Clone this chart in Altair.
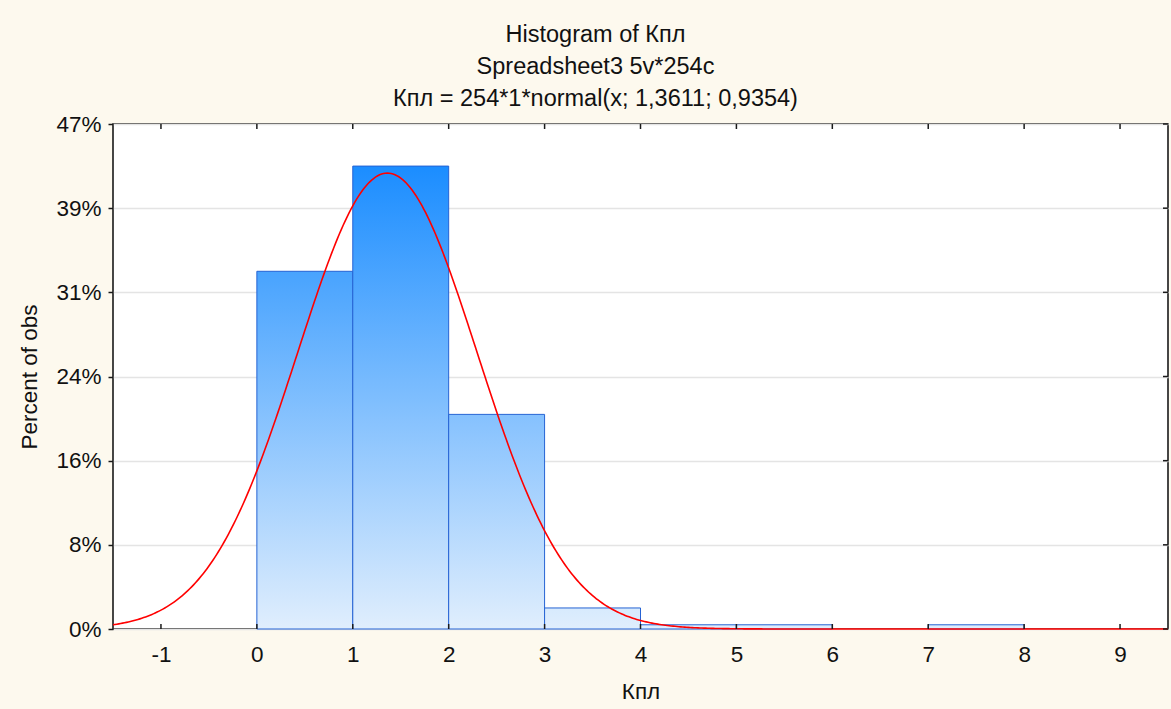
import altair as alt
import numpy as np
import pandas as pd

# Histogram of Кпл: counts per unit-wide class
bin_starts = [0, 1, 2, 3, 4, 5, 7]
bin_ends = [1, 2, 3, 4, 5, 6, 8]
counts = [85, 110, 51, 5, 1, 1, 1]

# fitted normal curve parameters (254*1*normal(x; mean; sd))
n_obs = 254
bin_width = 1
fit_mean = 1.3611
fit_sd = 0.9354

x_ticks = [-1, 0, 1, 2, 3, 4, 5, 6, 7, 8, 9]
y_ticks = [0, 20, 40, 60, 80, 100, 120]
y_tick_labels = ["0%", "8%", "16%", "24%", "31%", "39%", "47%"]

x_domain = [-1.5, 9.5]
y_domain = [0, 120]

W, H = 1055, 505
FONT = "Liberation Sans"
FRAME = "#1a1a1a"
FS = 22.5

# label expression mapping count ticks to percent-of-obs labels
label_expr = "''"
for v, lab in zip(reversed(y_ticks), reversed(y_tick_labels)):
    label_expr = f"datum.value == {v} ? '{lab}' : ({label_expr})"

x_scale = alt.Scale(domain=x_domain, nice=False, zero=False)
y_scale = alt.Scale(domain=y_domain, nice=False, zero=True)

x_axis = alt.Axis(values=x_ticks, labelExpr="'' + datum.value",
                  ticks=False, grid=False, domain=False,
                  labelFontSize=FS, labelFont=FONT, labelColor="#111",
                  labelPadding=14, title="Кпл", titleFont=FONT,
                  titleFontSize=FS, titleFontWeight="normal",
                  titleColor="#111", titlePadding=15, labelFlush=False)
y_axis = alt.Axis(values=y_ticks, labelExpr=label_expr, ticks=True,
                  tickSize=5, tickColor=FRAME, tickWidth=1.5, domain=False,
                  grid=True, gridColor="#e4e4e4", gridWidth=1.5,
                  labelFontSize=FS, labelFont=FONT, labelColor="#111",
                  labelPadding=7, title="Percent of obs", titleFont=FONT,
                  titleFontSize=FS, titleFontWeight="normal",
                  titleColor="#111", titlePadding=14)

# absolute vertical gradient: colour depends on height within the plot
top_rgb = np.array([9, 132, 255])
bottom_rgb = np.array([224, 238, 253])


def shade(frac):
    c = bottom_rgb + (top_rgb - bottom_rgb) * frac
    return "#%02x%02x%02x" % tuple(int(round(v)) for v in c)


layers = []
for s, e, c in zip(bin_starts, bin_ends, counts):
    df = pd.DataFrame({"start": [s], "end": [e], "count": [c], "base": [0]})
    grad = alt.Gradient(
        gradient="linear",
        stops=[alt.GradientStop(color=shade(c / y_domain[1]), offset=0),
               alt.GradientStop(color=shade(0), offset=1)],
        x1=0, x2=0, y1=0, y2=1,
    )
    layers.append(
        alt.Chart(df).mark_rect(fill=grad, stroke="#2563d4", strokeWidth=1)
        .encode(
            x=alt.X("start:Q", scale=x_scale, axis=x_axis),
            x2="end:Q",
            y=alt.Y("count:Q", scale=y_scale, axis=y_axis),
            y2="base:Q",
        )
    )

# fitted normal curve
xs = np.linspace(x_domain[0], x_domain[1], 551)
ys = n_obs * bin_width * np.exp(-0.5 * ((xs - fit_mean) / fit_sd) ** 2) / (
    fit_sd * np.sqrt(2 * np.pi))
curve_df = pd.DataFrame({"x": xs, "y": ys})
curve = alt.Chart(curve_df).mark_line(color="#ff0000", strokeWidth=1.6).encode(
    x=alt.X("x:Q", scale=x_scale, axis=x_axis),
    y=alt.Y("y:Q", scale=y_scale, axis=y_axis),
)

# inward tick marks on the bottom, top and right edges of the frame
xt_df = pd.DataFrame({"t": x_ticks})
yt_df = pd.DataFrame({"t": y_ticks})
tick_style = dict(color=FRAME, strokeWidth=1.5)
bottom_ticks = alt.Chart(xt_df).mark_rule(**tick_style).encode(
    x=alt.X("t:Q", scale=x_scale, axis=x_axis),
    y=alt.value(H), y2=alt.value(H - 5))
top_ticks = alt.Chart(xt_df).mark_rule(**tick_style).encode(
    x=alt.X("t:Q", scale=x_scale, axis=x_axis),
    y=alt.value(0), y2=alt.value(5))
right_ticks = alt.Chart(yt_df).mark_rule(**tick_style).encode(
    y=alt.Y("t:Q", scale=y_scale, axis=y_axis),
    x=alt.value(W), x2=alt.value(W - 5))

chart = alt.layer(*layers, curve, bottom_ticks, top_ticks, right_ticks).properties(
    width=W,
    height=H,
    title=alt.TitleParams(
        text=["Histogram of Кпл", "Spreadsheet3 5v*254c",
              "Кпл = 254*1*normal(x; 1,3611; 0,9354)"],
        font=FONT, fontSize=23.5, fontWeight="normal", color="#111",
        anchor="middle", frame="group", dx=-45, offset=3, lineHeight=32,
    ),
    autosize=alt.AutoSizeParams(type="none"),
    padding={"left": 113, "top": 124, "right": 3, "bottom": 80},
    background="#fdf9ee",
).configure_view(
    fill="white", stroke=FRAME, strokeWidth=1.6,
)

chart.save("out.html", embed_options={"renderer": "svg", "actions": False})
